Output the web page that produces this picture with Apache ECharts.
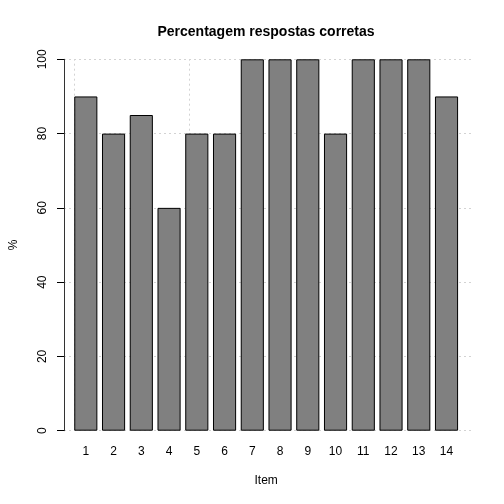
<!DOCTYPE html>
<html><head><meta charset="utf-8">
<script src="https://cdn.jsdelivr.net/npm/echarts@6/dist/echarts.min.js"></script>
<style>html,body{margin:0;padding:0;background:#fff}#c{width:504px;height:504px}</style>
</head><body><div id="c"></div>
<script>
const categories = ['1','2','3','4','5','6','7','8','9','10','11','12','13','14'];
const values = [90,80,85,60,80,80,100,100,100,80,100,100,100,90];
const yTicks = [0,20,40,60,80,100];
const xGridValues = [0,5,10,15];
const title = 'Percentagem respostas corretas';
const xName = 'Item';
const yName = '%';

const FONT = 'Liberation Sans';
const chart = echarts.init(document.getElementById('c'), null, {renderer:'canvas'});
const gridTop = 59.3, gridBottom = 504 - 430.7;
chart.setOption({
  animation:false,
  backgroundColor:'#fff',
  title:{text:title, left:266, textAlign:'center', top:25, padding:0,
    textStyle:{fontFamily:FONT, fontSize:14, fontWeight:'bold', color:'#000'}},
  grid:[
    {left:59, right:30, top:gridTop, bottom:gridBottom, containLabel:false},
    {left:71.94, right:43.6, top:gridTop, bottom:gridBottom, containLabel:false}
  ],
  xAxis:[
    {type:'value', gridIndex:0, min:-0.464, max:17.464, show:true,
      axisLine:{show:false, onZero:false}, axisTick:{show:false}, axisLabel:{show:false}, splitLine:{show:false}},
    {type:'category', gridIndex:1, data:categories,
      axisLine:{show:false}, axisTick:{show:false},
      axisLabel:{margin:15, fontFamily:FONT, fontSize:12, color:'#000'},
      name:xName, nameLocation:'middle', nameGap:44,
      nameTextStyle:{fontFamily:FONT, fontSize:12, color:'#000'}}
  ],
  yAxis:[
    {type:'value', gridIndex:0, min:0, max:100, interval:20,
      axisLine:{show:true, onZero:false, lineStyle:{color:'#333', width:1}},
      axisTick:{show:true, length:7, lineStyle:{color:'#000'}},
      axisLabel:{rotate:90, margin:15, fontFamily:FONT, fontSize:12, color:'#000'},
      splitLine:{show:true, lineStyle:{color:'#d3d3d3', type:[2,3], width:1}},
      name:yName, nameLocation:'middle', nameGap:44, nameRotate:90,
      nameTextStyle:{fontFamily:FONT, fontSize:12, color:'#000'}},
    {type:'value', gridIndex:1, min:0, max:100, show:false}
  ],
  series:[
    {type:'bar', xAxisIndex:1, yAxisIndex:1, data:values, barCategoryGap:'16.67%', z:2,
      itemStyle:{color:'#808080', borderColor:'#000', borderWidth:1}},
    {type:'line', xAxisIndex:0, yAxisIndex:0, data:[], z:1, silent:true,
      markLine:{symbol:'none', silent:true, z:1, label:{show:false},
        lineStyle:{color:'#d3d3d3', type:[2,3], width:1},
        data:xGridValues.map(v=>({xAxis:v}))}}
  ]
});
</script></body></html>
